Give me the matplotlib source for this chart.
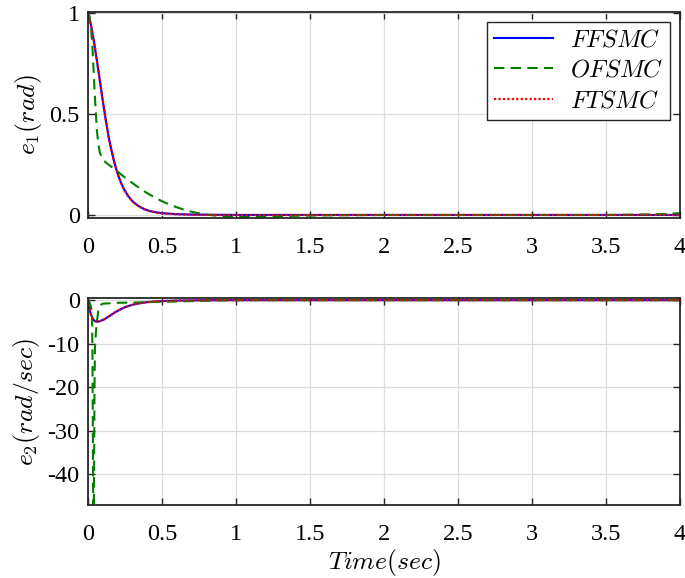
import numpy as np
import matplotlib
matplotlib.use("Agg")
import matplotlib.pyplot as plt

# e1 (rad)
t_e1_ff = [0, 0.02, 0.04, 0.06, 0.08, 0.1, 0.12, 0.14, 0.16, 0.18, 0.2, 0.22,
           0.24, 0.27, 0.3, 0.34, 0.38, 0.42, 0.46, 0.5, 0.6, 0.7, 0.85, 1.0,
           1.5, 2.0, 2.5, 3.0, 3.5, 4.0]
e1_ff = [1.0, 0.94, 0.86, 0.765, 0.665, 0.565, 0.47, 0.385, 0.315, 0.255,
         0.205, 0.165, 0.132, 0.095, 0.068, 0.045, 0.029, 0.019, 0.013, 0.009,
         0.004, 0.002, 0.001, 0.0, 0.0, 0.0, 0.0, 0.0, 0.0, 0.0]
e1_ft = [1.0, 0.94, 0.86, 0.764, 0.664, 0.564, 0.469, 0.384, 0.314, 0.254,
         0.204, 0.164, 0.131, 0.094, 0.067, 0.044, 0.028, 0.018, 0.012, 0.008,
         0.003, 0.001, 0.0, 0.0, 0.0, 0.0, 0.0, 0.0, 0.0, 0.0]
t_e1_of = [0, 0.01, 0.02, 0.03, 0.04, 0.05, 0.06, 0.07, 0.08, 0.09, 0.1, 0.12,
           0.15, 0.2, 0.25, 0.3, 0.35, 0.4, 0.45, 0.5, 0.55, 0.6, 0.65, 0.7,
           0.75, 0.8, 0.9, 1.0, 1.1, 1.2, 1.4, 1.6, 2.0, 2.5, 3.0, 3.5, 3.6,
           3.7, 3.8, 3.9, 4.0]
e1_of = [1.0, 0.985, 0.93, 0.83, 0.68, 0.54, 0.42, 0.35, 0.31, 0.29, 0.275,
         0.26, 0.243, 0.215, 0.185, 0.158, 0.132, 0.108, 0.087, 0.068, 0.052,
         0.038, 0.026, 0.016, 0.008, 0.002, -0.006, -0.01, -0.01, -0.008,
         -0.004, -0.002, 0.0, 0.0, 0.0, 0.0, 0.001, 0.002, 0.003, 0.005, 0.009]

# e2 (rad/sec)
t_e2_ff = [0, 0.01, 0.02, 0.03, 0.04, 0.05, 0.06, 0.07, 0.08, 0.1, 0.12, 0.14,
           0.16, 0.18, 0.2, 0.25, 0.3, 0.35, 0.4, 0.45, 0.5, 0.6, 0.7, 0.8,
           1.0, 2.0, 3.0, 4.0]
e2_ff = [0.0, -2.0, -3.3, -4.1, -4.6, -4.85, -4.95, -4.9, -4.8, -4.55, -4.2,
         -3.75, -3.3, -2.85, -2.45, -1.6, -1.05, -0.7, -0.45, -0.3, -0.2, -0.1,
         -0.05, -0.02, 0.0, 0.0, 0.0, 0.0]
e2_ft = [0.0, -2.0, -3.3, -4.1, -4.6, -4.85, -4.95, -4.9, -4.8, -4.55, -4.2,
         -3.75, -3.3, -2.85, -2.45, -1.6, -1.05, -0.7, -0.45, -0.3, -0.2, -0.1,
         -0.05, -0.02, 0.0, 0.0, 0.0, 0.0]
t_e2_of = [0, 0.01, 0.02, 0.027, 0.03, 0.032, 0.035, 0.038, 0.041, 0.044,
           0.047, 0.053, 0.06, 0.065, 0.07, 0.08, 0.1, 0.2, 0.3, 0.4, 0.5, 0.6,
           0.7, 0.8, 0.9, 1.0, 2.0, 3.0, 4.0]
e2_of = [0.0, -0.5, -1.5, -3.0, -12.0, -25.0, -45.0, -52.0, -40.0, -20.0,
         -11.0, -7.5, -5.0, -3.7, -2.3, -1.2, -0.8, -0.6, -0.55, -0.45, -0.38,
         -0.3, -0.2, -0.12, -0.05, 0.0, 0.0, 0.0, 0.0]

labels = ["$FFSMC$", "$OFSMC$", "$FTSMC$"]
xticks = np.arange(0, 4.01, 0.5)
xticklabels = ["0", "0.5", "1", "1.5", "2", "2.5", "3", "3.5", "4"]

plt.rcParams.update({
    "font.family": "Liberation Serif",
    "mathtext.fontset": "cm",
    "axes.unicode_minus": False,
    "font.size": 17.5,
})

SPINE = "#262626"
TICK_SIZE = 17.5
LABEL_SIZE = 18.5

fig = plt.figure(figsize=(6.85, 5.78), dpi=100)
ax1 = fig.add_axes([88 / 685, 1 - 218 / 578, 592 / 685, 206 / 578])
ax2 = fig.add_axes([88 / 685, 1 - 505 / 578, 592 / 685, 207 / 578])

for ax in (ax1, ax2):
    ax.grid(True, color="#dcdcdc", lw=0.9)
    ax.set_axisbelow(True)
    ax.tick_params(direction="in", top=True, right=True, length=5,
                   width=1.0, color=SPINE, labelsize=TICK_SIZE)
    ax.tick_params(axis="x", pad=14)
    ax.tick_params(axis="y", pad=6)
    for s in ax.spines.values():
        s.set_color(SPINE)
        s.set_linewidth(1.3)
    ax.set_xlim(0, 4)
    ax.set_xticks(xticks)
    ax.set_xticklabels(xticklabels)

ax1.plot(t_e1_ff, e1_ff, color="#0000ff", lw=1.5, label=labels[0])
ax1.plot(t_e1_of, e1_of, color="#008000", lw=1.5, ls=(0, (5, 3)), label=labels[1])
ax1.plot(t_e1_ff, e1_ft, color="#ff0000", lw=1.6, ls=(0, (1, 1)), label=labels[2])
ax1.set_ylim(-0.015, 1.005)
ax1.set_yticks([0, 0.5, 1])
ax1.set_yticklabels(["0", "0.5", "1"])
ax1.set_ylabel("$e_1(rad)$", fontsize=LABEL_SIZE, labelpad=4)
leg = ax1.legend(loc="upper right", bbox_to_anchor=(0.983, 0.951),
                 borderaxespad=0.0, fancybox=False, framealpha=1,
                 edgecolor=SPINE, handlelength=2.4, fontsize=17.5,
                 borderpad=0.3, labelspacing=0.35, handletextpad=0.7)
leg.get_frame().set_linewidth(1.0)

ax2.plot(t_e2_ff, e2_ff, color="#0000ff", lw=1.5)
ax2.plot(t_e2_of, e2_of, color="#008000", lw=1.5, ls=(0, (5, 3)))
ax2.plot(t_e2_ff, e2_ft, color="#ff0000", lw=1.6, ls=(0, (1, 1)))
ax2.set_ylim(-47, 0.5)
ax2.set_yticks([0, -10, -20, -30, -40])
ax2.set_yticklabels(["0", "-10", "-20", "-30", "-40"])
ax2.set_ylabel("$e_2(rad/sec)$", fontsize=LABEL_SIZE, labelpad=4)
ax2.set_xlabel("$Time(sec)$", fontsize=LABEL_SIZE, labelpad=1)

fig.savefig("out.png", dpi=100)
